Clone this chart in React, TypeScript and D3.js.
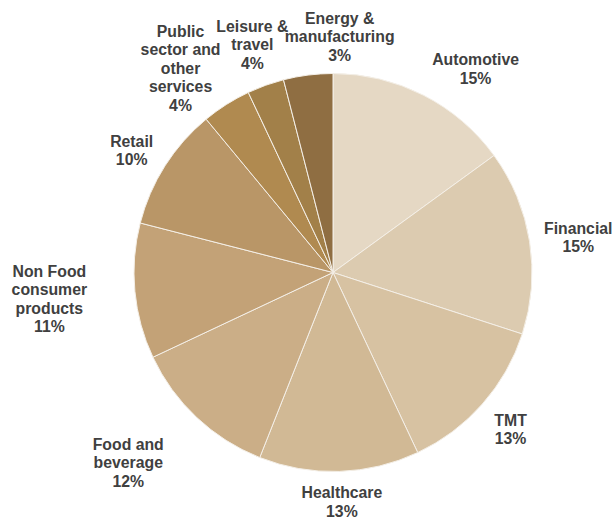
import { useEffect, useRef } from "react";
import * as d3 from "d3";

const sectors = [
  "Automotive",
  "Financial",
  "TMT",
  "Healthcare",
  "Food and beverage",
  "Non Food consumer products",
  "Retail",
  "Public sector and other services",
  "Leisure & travel",
  "Energy & manufacturing",
];
// slice sizes
const shares = [15, 15, 13, 13, 12, 11, 10, 4, 3, 4];
// percentages printed in the labels
const shownPct = [15, 15, 13, 13, 12, 11, 10, 4, 4, 3];
const labelLines = [
  ["Automotive"],
  ["Financial"],
  ["TMT"],
  ["Healthcare"],
  ["Food and", "beverage"],
  ["Non Food", "consumer", "products"],
  ["Retail"],
  ["Public", "sector and", "other", "services"],
  ["Leisure &", "travel"],
  ["Energy &", "manufacturing"],
];
const colors = [
  "#e5d8c4",
  "#dccbb0",
  "#d7c2a2",
  "#d1b995",
  "#cbae87",
  "#c3a277",
  "#b99667",
  "#b08a50",
  "#a28049",
  "#8f6e42",
];
// hand nudges for labels, like the manually dragged ones in the original
const labelNudge: [number, number][] = [
  [27, 1],
  [3, 1],
  [7, 5],
  [1, 0],
  [-36, 16],
  [-36, 3],
  [-5, 1],
  [-18, 13],
  [3, -3],
  [40, 1],
];

const W = 614,
  H = 519,
  cx = 333,
  cy = 272.5,
  radius = 199,
  labelPad = 12,
  lineH = 18.5;

export default function App() {
  const ref = useRef<SVGSVGElement>(null);

  useEffect(() => {
    const svg = d3.select(ref.current);
    svg.selectAll("*").remove();

    const data = sectors.map((name, i) => ({ name, value: shares[i], i }));
    const pie = d3
      .pie<any>()
      .value((d) => d.value)
      .sort(null);
    const arcs = pie(data);
    const arc = d3.arc<any>().innerRadius(0).outerRadius(radius);

    const g = svg.append("g").attr("transform", `translate(${cx},${cy})`);

    g.selectAll("path")
      .data(arcs)
      .enter()
      .append("path")
      .attr("d", arc)
      .attr("fill", (d) => colors[d.data.i])
      .attr("stroke", "#f4efe7")
      .attr("stroke-width", 1);

    const labels = g
      .selectAll("g.lbl")
      .data(arcs)
      .enter()
      .append("g")
      .attr("class", "lbl");

    labels.each(function (d) {
      const node = d3.select(this);
      const lines = [...labelLines[d.data.i], `${shownPct[d.data.i]}%`];
      const text = node
        .append("text")
        .attr("text-anchor", "middle")
        .attr("font-family", "'Liberation Sans', Arial, sans-serif")
        .attr("font-weight", "bold")
        .attr("font-size", 15.8)
        .attr("fill", "#404040");
      lines.forEach((ln, k) => {
        text
          .append("tspan")
          .attr("x", 0)
          .attr("y", -((lines.length - 1) * lineH) / 2 + k * lineH)
          .attr("dy", "0.35em")
          .text(ln);
      });
      const bw = (text.node() as SVGTextElement).getBBox().width;
      const bh = lines.length * lineH;
      const a = (d.startAngle + d.endAngle) / 2;
      const s = Math.sin(a),
        c = Math.cos(a);
      const r = radius + labelPad;
      const [nx, ny] = labelNudge[d.data.i];
      const x = r * s + (s * bw) / 2 + nx;
      const y = -r * c - (c * bh) / 2 + ny;
      node.attr("transform", `translate(${x},${y})`);
    });
  }, []);

  return (
    <svg
      ref={ref}
      width={W}
      height={H}
      style={{ position: "absolute", left: 0, top: 0, background: "#fff" }}
    />
  );
}
